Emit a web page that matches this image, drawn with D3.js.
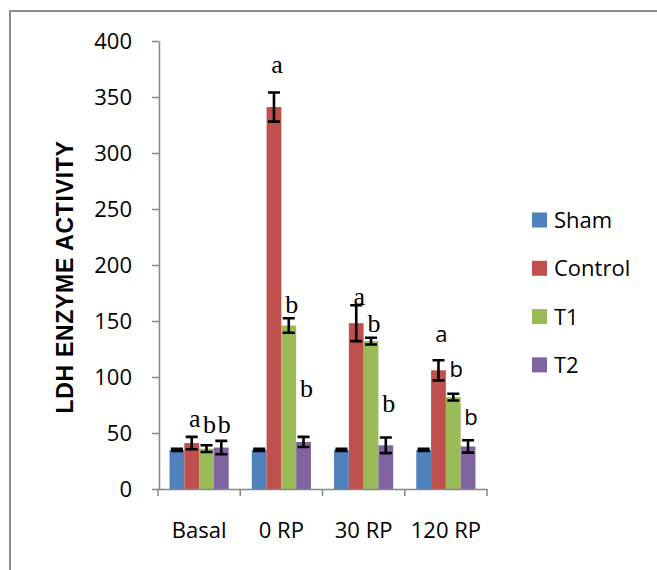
<!DOCTYPE html>
<html>
<head>
<meta charset="utf-8">
<script src="https://cdn.jsdelivr.net/npm/d3@7"></script>
<style>
  body { margin: 0; background: #fff; }
  svg { display: block; }
</style>
</head>
<body>
<script>
// chart values
const categories = ["Basal", "0 RP", "30 RP", "120 RP"];
const series = ["Sham", "Control", "T1", "T2"];
const colors = ["#4F81BD", "#C0504D", "#9BBB59", "#8064A2"];

// one row per category, one value per series
const means = [
  [35, 41, 36, 37],
  [35, 341, 146, 42],
  [35, 148, 132, 39],
  [35, 106, 82, 38]
];
const errors = [
  [1, 5.5, 3, 6],
  [1, 13, 6.5, 4.5],
  [1, 16, 3, 7],
  [1, 9, 3, 5.5]
];

// significance letters: [category, series, letter, height in data units]
const letters = [
  [0, 1, "a", 55], [0, 2, "b", 50], [0, 3, "b", 50],
  [1, 1, "a", 371], [1, 2, "b", 157], [1, 3, "b", 82],
  [2, 1, "a", 164], [2, 2, "b", 140], [2, 3, "b", 69],
  [3, 1, "a", 131], [3, 2, "b", 100], [3, 3, "b", 57]
];
// the last group was typed in a sans font
const sansGroups = [3];

const yTicks = [0, 50, 100, 150, 200, 250, 300, 350, 400];
const yTitle = "LDH ENZYME ACTIVITY";

const W = 657, H = 570;
const axisColor = "#868686";
const sans = "'Open Sans', sans-serif";

const svg = d3.select("body").append("svg")
    .attr("width", W)
    .attr("height", H);

// outer frame (only top and left edges are visible)
svg.append("path")
    .attr("d", `M10,570 V11 H657`)
    .attr("fill", "none")
    .attr("stroke", "#8c8c8c")
    .attr("stroke-width", 2);

// scales
const x0 = d3.scaleBand()
    .domain(categories)
    .range([158, 487])
    .paddingInner(0)
    .paddingOuter(0);

const x1 = d3.scaleBand()
    .domain(series)
    .range([0, x0.bandwidth()])
    .paddingInner(0)
    .paddingOuter(0.78);

const y = d3.scaleLinear()
    .domain([0, 400])
    .range([489, 41]);

// bars
const groups = svg.append("g").selectAll("g")
    .data(categories)
  .enter().append("g")
    .attr("transform", d => `translate(${x0(d)},0)`);

groups.selectAll("rect")
    .data((d, i) => means[i].map((v, j) => ({ s: series[j], v, c: colors[j] })))
  .enter().append("rect")
    .attr("x", d => x1(d.s))
    .attr("y", d => y(d.v))
    .attr("width", x1.bandwidth())
    .attr("height", d => y(0) - y(d.v))
    .attr("fill", d => d.c);

// error bars
const capW = 12;
groups.selectAll("path.err")
    .data((d, i) => means[i].map((v, j) => ({ s: series[j], v, e: errors[i][j] })))
  .enter().append("path")
    .attr("class", "err")
    .attr("d", d => {
      const cx = x1(d.s) + x1.bandwidth() / 2;
      const t = y(d.v + d.e), b = y(d.v - d.e);
      return `M${cx - capW / 2},${t} H${cx + capW / 2} M${cx},${t} V${b} M${cx - capW / 2},${b} H${cx + capW / 2}`;
    })
    .attr("fill", "none")
    .attr("stroke", "#000")
    .attr("stroke-width", 2.6);

// y axis
const yAxis = svg.append("g")
    .attr("transform", "translate(159,0)")
    .call(d3.axisLeft(y).tickValues(yTicks).tickSize(7).tickPadding(20).tickSizeOuter(0));
yAxis.select(".domain").attr("stroke", axisColor).attr("stroke-width", 1.5);
yAxis.selectAll(".tick line").attr("stroke", axisColor).attr("stroke-width", 1.5);
yAxis.selectAll("text")
    .attr("fill", "#000")
    .style("font-family", sans)
    .style("font-size", "22px");

// x axis: labels at band centres, ticks at band edges
const xAxis = svg.append("g")
    .attr("transform", "translate(0,489)")
    .call(d3.axisBottom(x0).tickSize(0).tickPadding(33).tickSizeOuter(0));
xAxis.select(".domain").attr("stroke", axisColor).attr("stroke-width", 1.5);
xAxis.selectAll("text")
    .attr("fill", "#000")
    .style("font-family", sans)
    .style("font-size", "22px");

const edges = categories.map(c => x0(c)).concat([x0(categories[categories.length - 1]) + x0.bandwidth()]);
xAxis.selectAll("line.edge")
    .data(edges)
  .enter().append("line")
    .attr("class", "edge")
    .attr("x1", d => d).attr("x2", d => d)
    .attr("y1", 0).attr("y2", 7)
    .attr("stroke", axisColor)
    .attr("stroke-width", 1.5);

// significance letters
svg.append("g").selectAll("text")
    .data(letters)
  .enter().append("text")
    .attr("x", d => x0(categories[d[0]]) + x1(series[d[1]]) + x1.bandwidth() / 2 + 3)
    .attr("y", d => y(d[3]))
    .attr("text-anchor", "middle")
    .style("font-family", d => sansGroups.includes(d[0]) ? sans : "'Liberation Serif', 'Times New Roman', serif")
    .style("font-size", d => sansGroups.includes(d[0]) ? "22px" : "26px")
    .text(d => d[2]);

// y axis title
svg.append("text")
    .attr("transform", "translate(73,277) rotate(-90)")
    .attr("text-anchor", "middle")
    .style("font-family", "'Liberation Sans', Arial, sans-serif")
    .style("font-weight", "bold")
    .style("font-size", "23px")
    .style("letter-spacing", "0.7px")
    .text(yTitle);

// legend
const legend = svg.append("g").selectAll("g")
    .data(series)
  .enter().append("g")
    .attr("transform", (d, i) => `translate(532,${220 + i * 48.3})`);

legend.append("rect")
    .attr("x", 0).attr("y", -7.5)
    .attr("width", 15).attr("height", 15)
    .attr("fill", (d, i) => colors[i]);

legend.append("text")
    .attr("x", 22)
    .attr("y", 0)
    .attr("dy", "0.36em")
    .style("font-family", sans)
    .style("font-size", "22px")
    .text(d => d);
</script>
</body>
</html>
